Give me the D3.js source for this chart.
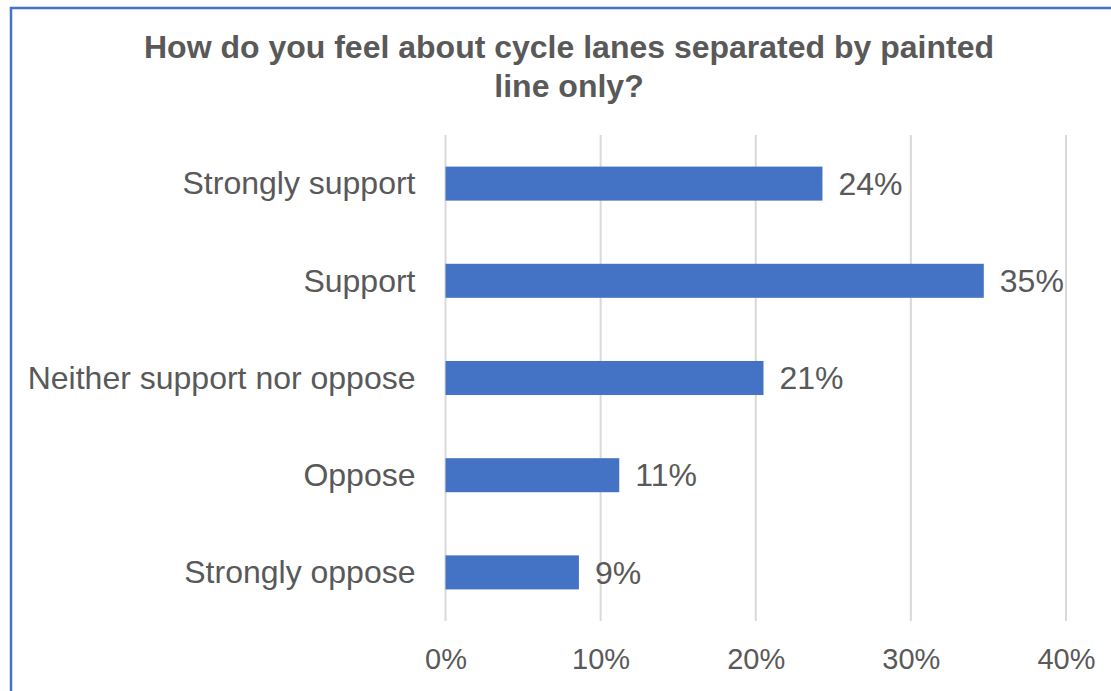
<!DOCTYPE html>
<html>
<head>
<meta charset="utf-8">
<script src="https://cdn.jsdelivr.net/npm/d3@7"></script>
<style>
  html, body { margin: 0; padding: 0; background: #fff; }
  svg { display: block; }
</style>
</head>
<body>
<svg id="chart" width="1111" height="691"></svg>
<script>
const categories = ["Strongly support", "Support", "Neither support nor oppose", "Oppose", "Strongly oppose"];
const values = [0.243, 0.347, 0.205, 0.112, 0.086];
const valueLabels = ["24%", "35%", "21%", "11%", "9%"];
const tickValues = [0, 0.1, 0.2, 0.3, 0.4];
const titleLines = ["How do you feel about cycle lanes separated by painted", "line only?"];

const svg = d3.select("#chart");
const W = 1111, H = 691;
const textColor = "#595959";
const font = "'Liberation Sans', Arial, sans-serif";

// outer frame
svg.append("rect").attr("x", 11).attr("y", 8).attr("width", W + 20).attr("height", H + 20)
  .attr("fill", "#fff").attr("stroke", "#4472C4").attr("stroke-width", 2.5);

const plot = { left: 445.5, right: 1066, top: 135, bottom: 621 };

const x = d3.scaleLinear().domain([0, 0.4]).range([plot.left, plot.right]);
const y = d3.scaleBand().domain(categories).range([plot.top, plot.bottom])
  .paddingInner(0.65).paddingOuter(0.325);

// title
const title = svg.append("text").attr("text-anchor", "middle")
  .attr("font-family", font).attr("font-weight", "bold").attr("font-size", 32)
  .attr("fill", textColor);
titleLines.forEach((t, i) => {
  title.append("tspan").attr("x", 569).attr("y", 58 + i * 39).text(t);
});

// gridlines
svg.append("g").selectAll("line").data(tickValues).join("line")
  .attr("x1", d => x(d)).attr("x2", d => x(d))
  .attr("y1", plot.top).attr("y2", plot.bottom)
  .attr("stroke", "#d9d9d9").attr("stroke-width", 2);

// x axis tick labels
const xAxis = d3.axisBottom(x).tickValues(tickValues).tickFormat(d3.format(".0%")).tickSize(0).tickPadding(0);
const gx = svg.append("g").attr("transform", `translate(0,${plot.bottom})`).call(xAxis);
gx.select(".domain").remove();
gx.selectAll("text").attr("font-family", font).attr("font-size", 29).attr("fill", textColor)
  .attr("dy", null).attr("y", 48);

// y axis labels
const yAxis = d3.axisLeft(y).tickSize(0).tickPadding(30);
const gy = svg.append("g").attr("transform", `translate(${plot.left},0)`).call(yAxis);
gy.select(".domain").remove();
gy.selectAll("text").attr("font-family", font).attr("font-size", 32).attr("fill", textColor)
  .attr("dy", "0.34em");

// bars
const data = categories.map((c, i) => ({ c, v: values[i], l: valueLabels[i] }));
svg.append("g").selectAll("rect").data(data).join("rect")
  .attr("x", x(0)).attr("y", d => y(d.c))
  .attr("width", d => x(d.v) - x(0)).attr("height", y.bandwidth())
  .attr("fill", "#4472C4");

// value labels
svg.append("g").selectAll("text").data(data).join("text")
  .attr("x", d => x(d.v) + 16).attr("y", d => y(d.c) + y.bandwidth() / 2)
  .attr("dy", "0.35em")
  .attr("font-family", font).attr("font-size", 32).attr("fill", textColor)
  .text(d => d.l);
</script>
</body>
</html>
